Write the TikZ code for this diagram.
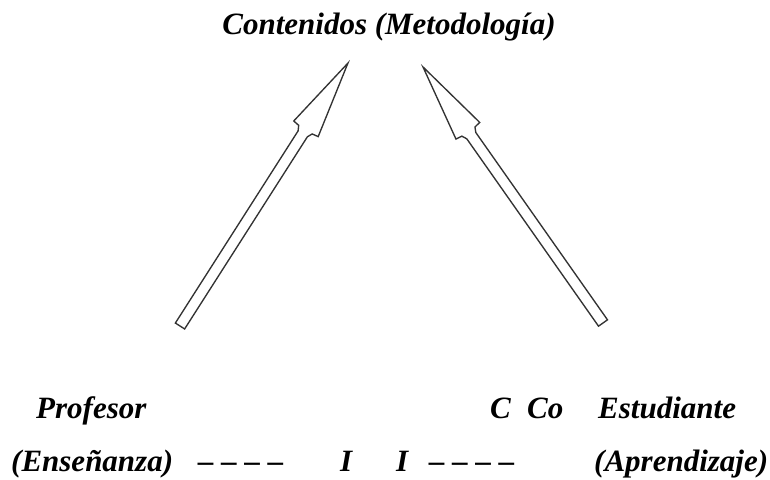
\documentclass[tikz,border=0pt]{standalone}
\usepackage{fontspec}
\setmainfont{Liberation Serif}
\begin{document}
\begin{tikzpicture}[x=1pt,y=1pt,
  lbl/.style={inner sep=0pt,anchor=base west,font=\fontsize{31}{36}\selectfont\bfseries\itshape},
  fatarrow/.style={draw=black!80,line width=1.35pt,line join=miter,fill=white}]
\useasboundingbox (0,0) rectangle (770,479);
% texts
\node[lbl,anchor=base] (title) at (389,444) {Contenidos (Metodología)};
\node[lbl] (prof) at (36,61) {Profesor};
\node[lbl] (c1) at (490,61) {C};
\node[lbl] (co) at (527,61) {Co};
\node[lbl] (est) at (598,61) {Estudiante};
\node[lbl] (ens) at (11,8) {(Enseñanza)};
\node[lbl] (d1) at (198,8) {\textendash\ \textendash\ \textendash\ \textendash};
\node[lbl] (i1) at (340,8) {I};
\node[lbl] (i2) at (396,8) {I};
\node[lbl] (d2) at (429,8) {\textendash\ \textendash\ \textendash\ \textendash};
\node[lbl] (apr) at (594,8) {(Aprendizaje)};
% left arrow
\coordinate (ltail) at (180,153);
\coordinate (ltip) at (348,416);
\begin{scope}[shift={(ltail)},rotate=57.43]
\draw[fatarrow] (0,-5.5) -- (228,-5.5) -- (233,-8) -- (234,-14.5) -- (312,0)
  -- (234,14.5) -- (233,8) -- (228,5.5) -- (0,5.5) -- cycle;
\end{scope}
% right arrow
\coordinate (rtail) at (603,156);
\coordinate (rtip) at (423,412);
\begin{scope}[shift={(rtail)},rotate=125.11]
\draw[fatarrow] (0,-5.5) -- (229,-5.5) -- (234,-8) -- (235,-14.5) -- (313,0)
  -- (235,14.5) -- (234,8) -- (229,5.5) -- (0,5.5) -- cycle;
\end{scope}
\end{tikzpicture}
\end{document}
